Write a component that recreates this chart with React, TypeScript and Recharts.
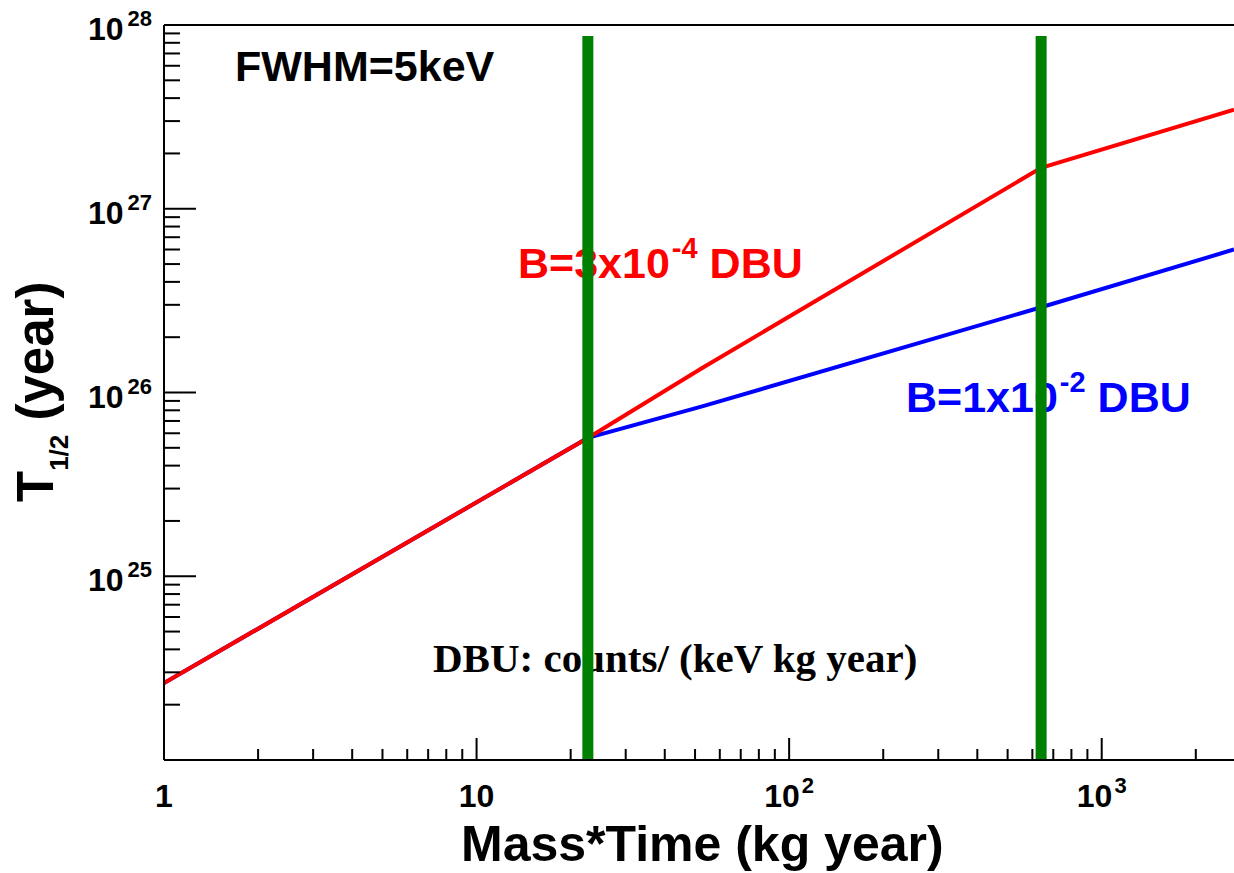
import React from "react";
import { LineChart, Line, XAxis, YAxis, ReferenceLine } from "recharts";

// exposure (kg year) sampled along the curves
const massTime = [1, 22.7, 52.7, 640, 2650];
// half-life sensitivity (year), B = 3x10^-4 DBU
const halfLifeLowBkg = [2.62e24, 5.66e25, 1.36e26, 1.67e27, 3.46e27];
// half-life sensitivity (year), B = 1x10^-2 DBU
const halfLifeHighBkg = [2.62e24, 5.66e25, 8.4e25, 2.91e26, 6.0e26];

// vertical markers (green bars)
const exposureMarks = [22.7, 640];
const markSpan = [1e24, 8.7e27];

const xMajor = [1, 10, 100, 1000];
const xMinor = [2, 3, 4, 5, 6, 7, 8, 9, 20, 30, 40, 50, 60, 70, 80, 90, 200, 300, 400, 500, 600, 700, 800, 900, 2000];
const xLabels = [["1", ""], ["10", ""], ["10", "2"], ["10", "3"]];

const yMajor = [1e24, 1e25, 1e26, 1e27, 1e28];
const yMinor = [
  2e24, 3e24, 4e24, 5e24, 6e24, 7e24, 8e24, 9e24,
  2e25, 3e25, 4e25, 5e25, 6e25, 7e25, 8e25, 9e25,
  2e26, 3e26, 4e26, 5e26, 6e26, 7e26, 8e26, 9e26,
  2e27, 3e27, 4e27, 5e27, 6e27, 7e27, 8e27, 9e27,
];
const yLabels = [["", ""], ["10", "25"], ["10", "26"], ["10", "27"], ["10", "28"]];

const W = 1234;
const H = 873;
const PLOT_LEFT = 164;
const PLOT_BOTTOM = 760;

const sans = "'Liberation Sans', Arial, Helvetica, sans-serif";
const serif = "'Liberation Serif', 'Times New Roman', serif";

const lowBkg = massTime.map((x, i) => ({ x, y: halfLifeLowBkg[i] }));
const highBkg = massTime.map((x, i) => ({ x, y: halfLifeHighBkg[i] }));
const marks = exposureMarks.map(x => markSpan.map(y => ({ x, y })));

function XTick(props: any) {
  const { x, payload } = props;
  const i = xMajor.indexOf(payload.value);
  const len = i >= 0 ? 22 : 11;
  return (
    <g>
      <line x1={x} x2={x} y1={PLOT_BOTTOM} y2={PLOT_BOTTOM - len} stroke="#000" strokeWidth={2} />
      {i >= 0 && (
        <text x={x} y={807} textAnchor="middle" fontFamily={sans} fontWeight="bold" fontSize={32} fill="#000">
          <tspan>{xLabels[i][0]}</tspan>
          {xLabels[i][1] && <tspan dx={2} dy={-14} fontSize={22}>{xLabels[i][1]}</tspan>}
        </text>
      )}
    </g>
  );
}

function YTick(props: any) {
  const { y, payload } = props;
  const i = yMajor.indexOf(payload.value);
  const len = i >= 0 ? 32 : 16;
  return (
    <g>
      <line x1={PLOT_LEFT} x2={PLOT_LEFT + len} y1={y} y2={y} stroke="#000" strokeWidth={2} />
      {i > 0 && (
        <text x={152} y={y + 15} textAnchor="end" fontFamily={sans} fontWeight="bold" fontSize={32} fill="#000">
          <tspan>{yLabels[i][0]}</tspan>
          <tspan dx={4} dy={-14} fontSize={22}>{yLabels[i][1]}</tspan>
        </text>
      )}
    </g>
  );
}

function Annotations() {
  return (
    <svg width={W} height={H} style={{ position: "absolute", left: 0, top: 0 }}>
      <text x={235} y={81} fontFamily={sans} fontWeight="bold" fontSize={43} fill="#000">FWHM=5keV</text>
      <text x={518} y={278} fontFamily={sans} fontWeight="bold" fontSize={43} fill="#ff0000">
        <tspan>B=3x10</tspan>
        <tspan dx={2} dy={-20} fontSize={29}>-4</tspan>
        <tspan dy={20}> DBU</tspan>
      </text>
      <text x={906} y={412} fontFamily={sans} fontWeight="bold" fontSize={43} fill="#0000ff">
        <tspan>B=1x10</tspan>
        <tspan dx={2} dy={-20} fontSize={29}>-2</tspan>
        <tspan dy={20}> DBU</tspan>
      </text>
      <text x={433} y={672} fontFamily={serif} fontWeight="bold" fontSize={41} fill="#000">
        DBU: counts/ (keV kg year)
      </text>
      <text x={461} y={861} fontFamily={sans} fontWeight="bold" fontSize={50} fill="#000">
        Mass*Time (kg year)
      </text>
      <text
        x={53}
        y={502}
        transform="rotate(-90 53 502)"
        fontFamily={sans}
        fontWeight="bold"
        fontSize={51}
        fill="#000"
      >
        <tspan>T</tspan>
        <tspan dy={15} fontSize={26}>1/2</tspan>
        <tspan dy={-15}> (year)</tspan>
      </text>
    </svg>
  );
}

export default function App() {
  return (
    <div style={{ position: "absolute", left: 0, top: 0, width: W, height: H, background: "#fff", overflow: "hidden" }}>
      <Annotations />
      <div style={{ position: "absolute", left: 0, top: 0 }}>
        <LineChart width={W} height={H} margin={{ top: 25, right: 0, left: 104, bottom: 53 }}>
          <XAxis
            dataKey="x"
            type="number"
            scale="log"
            domain={[1, 2650]}
            allowDataOverflow
            ticks={[...xMajor, ...xMinor]}
            interval={0}
            height={60}
            tick={XTick}
            tickLine={false}
            axisLine={{ stroke: "#000", strokeWidth: 2 }}
          />
          <YAxis
            type="number"
            scale="log"
            domain={[1e24, 1e28]}
            allowDataOverflow
            ticks={[...yMajor, ...yMinor]}
            interval={0}
            width={60}
            tick={YTick}
            tickLine={false}
            axisLine={{ stroke: "#000", strokeWidth: 2 }}
          />
          <ReferenceLine y={1e28} stroke="#000" strokeWidth={2} />
          <Line data={highBkg} dataKey="y" type="linear" stroke="#0000ff" strokeWidth={4} dot={false} isAnimationActive={false} />
          <Line data={lowBkg} dataKey="y" type="linear" stroke="#ff0000" strokeWidth={4} dot={false} isAnimationActive={false} />
          {marks.map((m, i) => (
            <Line key={i} data={m} dataKey="y" type="linear" stroke="#008000" strokeWidth={11} dot={false} isAnimationActive={false} />
          ))}
        </LineChart>
      </div>
    </div>
  );
}
